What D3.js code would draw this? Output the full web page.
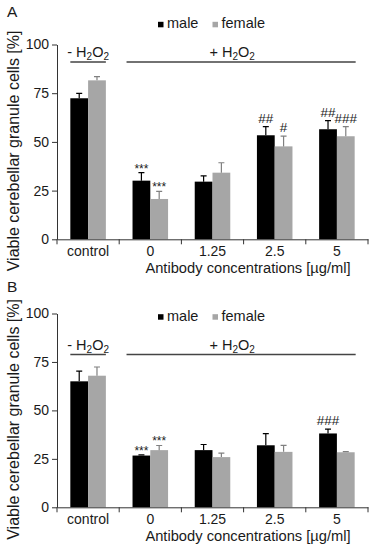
<!DOCTYPE html>
<html>
<head>
<meta charset="utf-8">
<script src="https://cdn.jsdelivr.net/npm/d3@7"></script>
<style>
  body { margin: 0; background: #fff; }
  svg text { font-family: "Liberation Sans", Arial, sans-serif; fill: #1a1a1a; }
</style>
</head>
<body>
<script>
// data (mean and upper error, % viable cells)
const categories = ["control", "0", "1.25", "2.5", "5"];
const groups = ["male", "female"];
const yTicks = [0, 25, 50, 75, 100];

const maleA = [72.4, 30.1, 29.6, 53.4, 56.5];
const maleErrA = [2.5, 4.1, 3.0, 4.4, 4.4];
const femaleA = [81.6, 20.7, 34.2, 47.7, 52.9];
const femaleErrA = [1.9, 3.9, 5.1, 5.3, 4.9];
const maleSigA = ["", "***", "", "##", "##"];
const femaleSigA = ["", "***", "", "#", "###"];

const maleB = [65.0, 26.7, 29.5, 32.0, 38.1];
const maleErrB = [5.3, 0.3, 2.9, 6.0, 2.2];
const femaleB = [67.9, 29.5, 25.9, 28.6, 28.4];
const femaleErrB = [4.5, 2.4, 2.1, 3.4, 0.3];
const maleSigB = ["", "***", "", "", "###"];
const femaleSigB = ["", "***", "", "", ""];

const color = { male: "#000000", female: "#a6a6a6" };
const errColor = { male: "#000000", female: "#808080" };

const panels = [
  { label: "A", labelY: 17, top: 44.5, bottom: 239.3, legendY: 28.3, bracketY: 62,
    male: maleA, maleErr: maleErrA, female: femaleA, femaleErr: femaleErrA,
    maleSig: maleSigA, femaleSig: femaleSigA },
  { label: "B", labelY: 292, top: 313.5, bottom: 507.3, legendY: 320.7, bracketY: 354.5,
    male: maleB, maleErr: maleErrB, female: femaleB, femaleErr: femaleErrB,
    maleSig: maleSigB, femaleSig: femaleSigB }
];

const width = 374, height = 550;

const svg = d3.select("body").append("svg")
  .attr("width", width)
  .attr("height", height);

const x = d3.scaleBand().domain(categories).range([57, 368]);
const x1 = d3.scaleBand().domain(groups).range([0, x.bandwidth()]).paddingOuter(0.75);

function h2o2(text, prefix) {
  text.append("tspan").text(prefix + "H");
  text.append("tspan").attr("font-size", 10).attr("dy", 3).text("2");
  text.append("tspan").attr("dy", -3).text("O");
  text.append("tspan").attr("font-size", 10).attr("dy", 3).text("2");
}

function drawPanel(p) {
  const y = d3.scaleLinear().domain([0, 100]).range([p.bottom, p.top]);
  const g = svg.append("g");

  g.append("text")
    .attr("x", 7)
    .attr("y", p.labelY)
    .attr("font-size", 15.5)
    .text(p.label);

  // bars
  const rows = categories.map((c, i) => groups.map(k => ({
    cat: c, key: k, v: p[k][i], e: p[k + "Err"][i], sig: p[k + "Sig"][i]
  }))).flat();

  g.selectAll(".bar")
    .data(rows)
    .enter().append("rect")
      .attr("x", d => x(d.cat) + x1(d.key))
      .attr("y", d => y(d.v))
      .attr("width", x1.bandwidth())
      .attr("height", d => y(0) - y(d.v))
      .attr("fill", d => color[d.key]);

  // error bars, upper only
  const cx = d => x(d.cat) + x1(d.key) + x1.bandwidth() / 2;
  g.selectAll(".err")
    .data(rows)
    .enter().append("path")
      .attr("d", d => `M${cx(d)},${y(d.v)}V${y(d.v + d.e)}M${cx(d) - 3},${y(d.v + d.e)}H${cx(d) + 3}`)
      .attr("stroke", d => errColor[d.key])
      .attr("stroke-width", 1.2)
      .attr("fill", "none");

  g.selectAll(".sig")
    .data(rows.filter(d => d.sig))
    .enter().append("text")
      .attr("x", cx)
      .attr("y", d => y(d.v + d.e) - (d.sig[0] == "*" ? 0 : 4))
      .attr("text-anchor", "middle")
      .attr("font-size", d => d.sig[0] == "*" ? 12 : 13.5)
      .text(d => d.sig);

  // axes
  const ya = g.append("g")
    .attr("transform", `translate(${x.range()[0]},0)`)
    .call(d3.axisLeft(y).tickValues(yTicks).tickSize(5).tickSizeOuter(0).tickPadding(3));
  ya.selectAll("text").attr("font-size", 14).attr("font-family", null).attr("fill", "#1a1a1a");
  ya.selectAll("line, path").attr("stroke", "#333");

  const xa = g.append("g")
    .attr("transform", `translate(0,${y(0)})`)
    .call(d3.axisBottom(x).tickSize(0).tickSizeOuter(0).tickPadding(7));
  xa.selectAll("text").attr("font-size", 14).attr("font-family", null).attr("fill", "#1a1a1a");
  xa.select(".domain").attr("stroke", "#333");

  g.selectAll(".xtick")
    .data(categories.map(c => x(c)).concat([x.range()[1]]))
    .enter().append("line")
      .attr("x1", d => d).attr("x2", d => d)
      .attr("y1", y(0)).attr("y2", y(0) + 5)
      .attr("stroke", "#333");

  g.append("text")
    .attr("x", 248)
    .attr("y", y(0) + 33.5)
    .attr("text-anchor", "middle")
    .attr("font-size", 14.7)
    .text("Antibody concentrations [µg/ml]");

  g.append("text")
    .attr("transform", `translate(19,${(p.top + p.bottom) / 2 + 9}) rotate(-90)`)
    .attr("text-anchor", "middle")
    .attr("font-size", 16)
    .text("Viable cerebellar granule cells [%]");

  // legend
  const leg = g.append("g");
  [["male", 158], ["female", 212.5]].forEach(([k, lx]) => {
    leg.append("rect")
      .attr("x", lx).attr("y", p.legendY - 6.5)
      .attr("width", 5.5).attr("height", 5.5)
      .attr("fill", color[k]);
    leg.append("text")
      .attr("x", lx + 9).attr("y", p.legendY)
      .attr("font-size", 14.5)
      .text(k);
  });

  // treatment brackets
  const l0 = x("control") + x1("male"), l1 = x("control") + x1("female") + x1.bandwidth();
  const r0 = x("0") + x1("male") - 6, r1 = x("5") + x1("female") + x1.bandwidth() + 1;
  g.append("path")
    .attr("d", `M${l0},${p.bracketY}H${l1}M${r0},${p.bracketY}H${r1}`)
    .attr("stroke", "#444")
    .attr("stroke-width", 1.5);
  h2o2(g.append("text")
    .attr("x", (l0 + l1) / 2).attr("y", p.bracketY - 5)
    .attr("text-anchor", "middle").attr("font-size", 14.5), "- ");
  h2o2(g.append("text")
    .attr("x", (r0 + r1) / 2 - 9).attr("y", p.bracketY - 5)
    .attr("text-anchor", "middle").attr("font-size", 14.5), "+ ");
}

panels.forEach(drawPanel);
</script>
</body>
</html>
